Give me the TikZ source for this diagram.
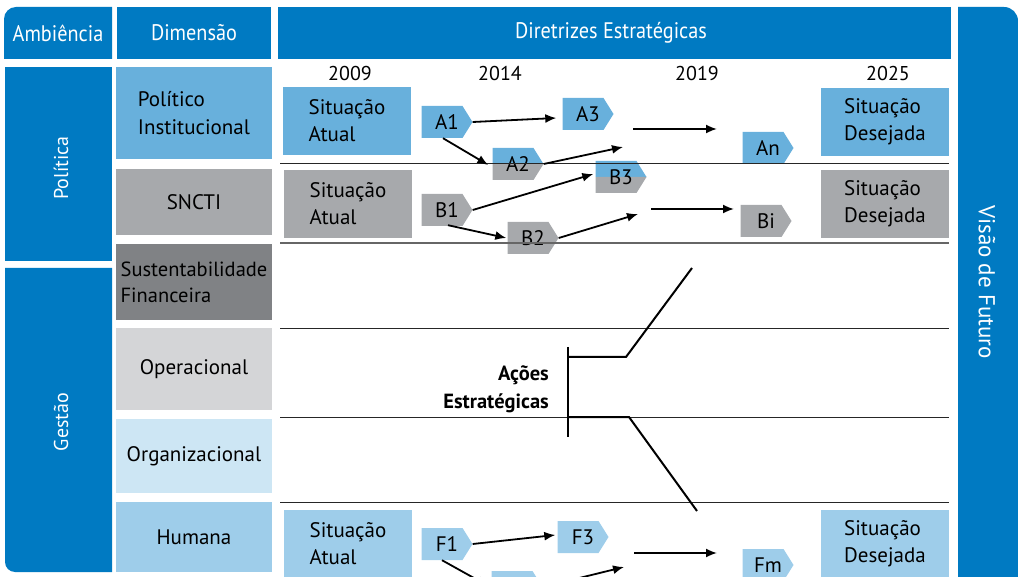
\documentclass[tikz,border=0pt]{standalone}
\usepackage{fontspec}
\setmainfont{PT Sans}
\newfontfamily\hdrfont[FakeStretch=0.9]{PT Sans}
\usetikzlibrary{arrows.meta,calc}

\definecolor{hdr}{RGB}{0,122,194}
\definecolor{pblue}{RGB}{104,176,220}
\definecolor{sgray}{RGB}{167,169,172}
\definecolor{dgray}{RGB}{128,130,133}
\definecolor{lgray}{RGB}{212,213,215}
\definecolor{vlblue}{RGB}{205,230,244}
\definecolor{hblue}{RGB}{158,205,234}

% arrow-shaped tag: name, centre, fill, label
\newcommand\tagshape[4]{%
  \fill[#3] ($#2+(-25.5,-16)$) -- ($#2+(15.5,-16)$) -- ($#2+(25.5,0)$)
    -- ($#2+(15.5,16)$) -- ($#2+(-25.5,16)$) -- cycle;
  \node[tagtxt] (#1) at #2 {#4\hspace{10pt}};}
% two-coloured tag: name, centre, upper fill, lower fill, label
\newcommand\splittag[5]{%
  \fill[#3] ($#2+(-25.5,-16)$) -- ($#2+(15.5,-16)$) -- ($#2+(25.5,0)$)
    -- ($#2+(-25.5,0)$) -- cycle;
  \fill[#4] ($#2+(-25.5,0)$) -- ($#2+(25.5,0)$) -- ($#2+(15.5,16)$)
    -- ($#2+(-25.5,16)$) -- cycle;
  \node[tagtxt] (#1) at #2 {#5\hspace{10pt}};}

\begin{document}
\begin{tikzpicture}[x=1pt,y=-1pt,
  hdrtxt/.style={text=white, inner sep=0, font=\hdrfont\fontsize{22.5}{26}\selectfont},
  sidetxt/.style={text=white, inner sep=0, font=\fontsize{20}{24}\selectfont},
  dimbox/.style={minimum width=156pt, inner sep=0, align=left, font=\fontsize{21}{28}\selectfont},
  sitbox/.style={minimum width=128pt, minimum height=68pt, inner sep=0, align=left, font=\fontsize{21}{27}\selectfont},
  tagtxt/.style={minimum width=51pt, minimum height=32pt, inner sep=0, font=\fontsize{21}{24}\selectfont},
  yeartxt/.style={inner sep=0, font=\fontsize{20}{22}\selectfont},
  sep/.style={line width=1pt, draw=black!85},
  arr/.style={line width=1.8pt, -{Latex[length=11pt,width=9pt]}},
  brk/.style={line width=2pt}]
\clip (0,0) rectangle (1018,577);

% header row
\fill[hdr] (4,59) [rounded corners=12pt] -- (4,7) [sharp corners] -- (112,7) -- (112,59) -- cycle;
\node[hdrtxt] (hamb) at (58,33) {Ambiência};
\fill[hdr] (117,7) rectangle (271,59);
\node[hdrtxt] (hdim) at (194,33) {Dimensão};
\fill[hdr] (278,7) rectangle (951,59);
\node[hdrtxt] (hdir) at (611,33) {Diretrizes Estratégicas};

% vision column
\fill[hdr] (958,590) -- (958,7) [rounded corners=14pt] -- (1018,7) [sharp corners] -- (1018,590) -- cycle;
\node[sidetxt, rotate=-90, font=\fontsize{23}{26}\selectfont] (vis) at (987,282) {Visão de Futuro};

% ambience column
\fill[hdr] (5,67) rectangle (112,261);
\node[sidetxt, rotate=90] (pol) at (61,168) {Política};
\fill[hdr] (5,268) -- (112,268) -- (112,572) [rounded corners=10pt] -- (5,572) [sharp corners] -- (5,268) -- cycle;
\node[sidetxt, rotate=90] (ges) at (61,422) {Gestão};

% dimension column
\node[dimbox, fill=pblue, minimum height=92pt] (dpol) at (194,113) {Político\\Institucional};
\node[dimbox, fill=sgray, minimum height=66pt] (dsn) at (194,202) {SNCTI};
\node[dimbox, fill=dgray, minimum height=76pt, font=\fontsize{20.5}{26}\selectfont] (dsus) at (194,282) {Sustentabilidade\\Financeira};
\node[dimbox, fill=lgray, minimum height=82pt] (dop) at (194,369) {Operacional};
\node[dimbox, fill=vlblue, minimum height=74pt] (dorg) at (194,456) {Organizacional};
\node[dimbox, fill=hblue, minimum height=70pt] (dhum) at (194,537) {Humana};

% years
\node[yeartxt] (y1) at (350,74) {2009};
\node[yeartxt] (y2) at (500,74) {2014};
\node[yeartxt] (y3) at (697,74) {2019};
\node[yeartxt] (y4) at (888,74) {2025};

% current and desired situations
\node[sitbox, fill=pblue] (sa1) at (347,121) {Situação\\Atual};
\node[sitbox, fill=sgray] (sa2) at (348,204) {Situação\\Atual};
\node[sitbox, fill=hblue] (sa3) at (348,544) {Situação\\Atual};
\node[sitbox, fill=pblue] (sd1) at (885,122) {Situação\\Desejada};
\node[sitbox, fill=sgray] (sd2) at (885,204) {Situação\\Desejada};
\node[sitbox, fill=hblue] (sd3) at (885,544) {Situação\\Desejada};

% tags
\tagshape{A1}{(447,122)}{pblue}{A1}
\tagshape{A3}{(588,114)}{pblue}{A3}
\splittag{A2}{(518,164)}{pblue}{sgray}{A2}
\tagshape{An}{(768,148)}{pblue}{An}
\splittag{B3}{(621,177)}{pblue}{sgray}{B3}
\tagshape{B1}{(447,210)}{sgray}{B1}
\tagshape{B2}{(533,238)}{sgray}{B2}
\tagshape{Bi}{(766,221)}{sgray}{Bi}
\tagshape{F1}{(447,544)}{hblue}{F1}
\tagshape{F3}{(583,537)}{hblue}{F3}
\tagshape{F2}{(517,587)}{hblue}{}
\tagshape{Fm}{(768,565)}{hblue}{Fm}

% row separators
\draw[sep] (280,164) -- (949,164);
\draw[line width=1.4pt, draw=black!60] (280,243) -- (949,243);
\draw[sep] (280,329) -- (949,329);
\draw[sep] (280,417) -- (949,417);
\draw[sep] (280,502) -- (949,502);

% free ends of the open arrows
\coordinate (a2e) at (623,147);
\coordinate (aas) at (633,129);
\coordinate (aae) at (717,129);
\coordinate (b2e) at (638,214);
\coordinate (bbs) at (651,209);
\coordinate (bbe) at (734,209);
\coordinate (f2e) at (624,567);
\coordinate (ffs) at (634,553);
\coordinate (ffe) at (717,553);

% connectors
\draw[arr] (A1.east) -- ($(A3.west)+(-6,4)$);
\draw[arr] ($(A1.south)+(-4,0)$) -- ($(A2.west)+(-4,1)$);
\draw[arr] (A2.east) -- (a2e);
\draw[arr] (aas) -- (aae);
\draw[arr] (B1.east) -- ($(B3.west)+(-2,-3)$);
\draw[arr] ($(B1.south)+(1,-1)$) -- ($(B2.west)+(-1,0)$);
\draw[arr] (B2.east) -- (b2e);
\draw[arr] (bbs) -- (bbe);
\draw[arr] (F1.east) -- ($(F3.west)+(-2,-2)$);
\draw[arr] ($(F1.south)+(-5,0)$) -- ($(F2.west)+(-3,-1)$);
\draw[arr] (F2.east) -- (f2e);
\draw[arr] (ffs) -- (ffe);

% strategic actions bracket
\coordinate (bkt) at (568,347);
\coordinate (bkb) at (568,437);
\coordinate (bku) at (568,357);
\coordinate (bkl) at (568,417);
\draw[brk] (bkt) -- (bkb);
\draw[brk] (bku) -- (626,357) -- (692,268);
\draw[brk] (bkl) -- (629,417) -- (697,511);
\node[anchor=east, align=right, inner sep=0, font=\bfseries\fontsize{20.5}{28}\selectfont] (acoes) at (549,389) {Ações\\Estratégicas};
\end{tikzpicture}
\end{document}
